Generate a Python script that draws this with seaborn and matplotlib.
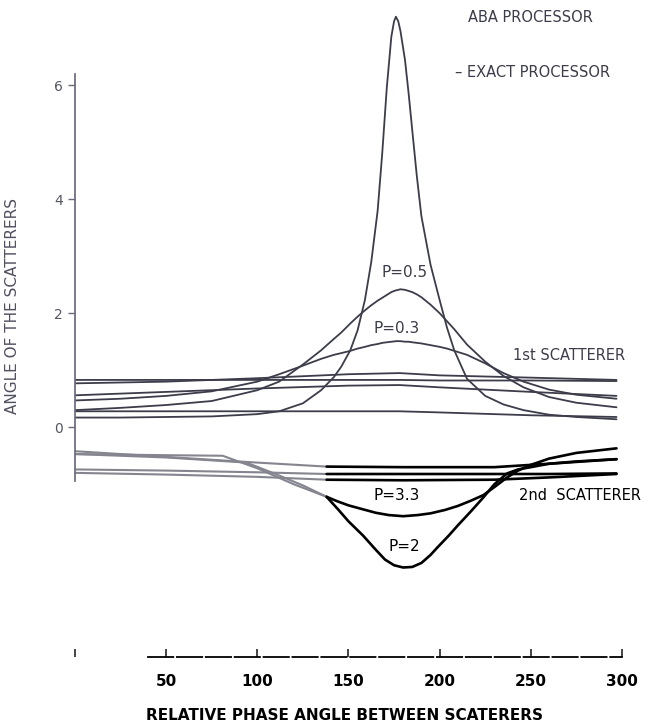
import matplotlib
matplotlib.use("Agg")
import matplotlib.pyplot as plt
import seaborn as sns
import pandas as pd

# relative phase grid used by the peaked curves (1st scatterer)
phase = [0, 25, 50, 75, 100, 112, 125, 135, 142, 146, 151, 155, 159, 162.5, 166, 168.5,
         171, 173.5, 175, 176, 177.3, 178.5, 181, 183, 185, 187.5, 190, 195, 200, 204,
         208, 215, 225, 235, 246, 260, 275, 297]
aba_peak = [0.17, 0.17, 0.18, 0.19, 0.23, 0.28, 0.42, 0.65, 0.88, 1.06, 1.35, 1.70, 2.23,
            2.90, 3.80, 4.80, 5.95, 6.85, 7.12, 7.20, 7.12, 6.95, 6.44, 5.85, 5.20, 4.40,
            3.70, 2.85, 2.23, 1.75, 1.35, 0.85, 0.55, 0.40, 0.30, 0.22, 0.18, 0.14]
p05 = [0.30, 0.34, 0.39, 0.46, 0.65, 0.80, 1.10, 1.35, 1.55, 1.66, 1.82, 1.94, 2.05, 2.14,
       2.22, 2.27, 2.32, 2.37, 2.39, 2.40, 2.41, 2.42, 2.41, 2.39, 2.37, 2.33, 2.28, 2.15,
       2.00, 1.86, 1.72, 1.45, 1.15, 0.90, 0.70, 0.53, 0.43, 0.35]
p03 = [0.47, 0.50, 0.55, 0.63, 0.80, 0.93, 1.08, 1.20, 1.27, 1.30, 1.34, 1.38, 1.41, 1.44,
       1.46, 1.48, 1.49, 1.50, 1.505, 1.51, 1.51, 1.51, 1.50, 1.50, 1.49, 1.48, 1.47, 1.44,
       1.41, 1.38, 1.34, 1.27, 1.12, 0.95, 0.80, 0.66, 0.57, 0.50]

# nearly flat lines of the 1st scatterer
flat_x = [0, 50, 100, 150, 178, 200, 250, 297]
line_a = [0.83, 0.83, 0.83, 0.83, 0.83, 0.82, 0.82, 0.81]
line_b = [0.77, 0.80, 0.86, 0.93, 0.95, 0.91, 0.87, 0.83]
line_c = [0.56, 0.62, 0.68, 0.73, 0.74, 0.70, 0.62, 0.55]
line_d = [0.28, 0.28, 0.28, 0.28, 0.28, 0.26, 0.21, 0.18]

# 2nd scatterer
p33_x = [0, 50, 94, 110, 125, 138, 144, 150, 158, 165, 172, 180, 188, 195, 203, 210, 217,
         224, 230, 237, 243, 250, 260, 275, 297]
p33 = [-0.47, -0.53, -0.62, -0.82, -1.02, -1.22, -1.30, -1.37, -1.44, -1.50, -1.54, -1.56,
       -1.54, -1.51, -1.45, -1.38, -1.29, -1.19, -1.05, -0.88, -0.76, -0.66, -0.55, -0.45,
       -0.37]
p2_x = [0, 50, 81, 100, 120, 138, 144, 150, 158, 165, 170, 175, 180, 185, 190, 195, 199,
        205, 210, 217, 224, 230, 237, 243, 250, 260, 275, 297]
p2 = [-0.47, -0.49, -0.50, -0.72, -1.00, -1.22, -1.43, -1.65, -1.90, -2.15, -2.32, -2.42,
      -2.46, -2.45, -2.38, -2.24, -2.10, -1.90, -1.72, -1.48, -1.23, -1.00, -0.81, -0.74,
      -0.70, -0.64, -0.60, -0.56]
low_x = [0, 50, 100, 138, 180, 230, 260, 297]
low_1 = [-0.42, -0.52, -0.62, -0.69, -0.70, -0.70, -0.64, -0.56]
low_2 = [-0.74, -0.76, -0.79, -0.82, -0.82, -0.82, -0.82, -0.81]
low_3 = [-0.80, -0.83, -0.87, -0.92, -0.93, -0.92, -0.88, -0.82]

xticks = [0, 50, 100, 150, 200, 250, 300]
xtick_labels = ["", "50", "100", "150", "200", "250", "300"]
yticks = [0, 2, 4, 6]

sns.set_theme(style="white")
plt.rcParams["font.family"] = ["DejaVu Sans"]

fig = plt.figure(figsize=(6.66, 7.26), dpi=100)
ax = fig.add_axes([0.1126, 0.095, 0.8213, 0.9016])

upper_col = "#3c3c4a"
for xs, ys in [(phase, aba_peak), (phase, p05), (phase, p03), (flat_x, line_a),
               (flat_x, line_b), (flat_x, line_c), (flat_x, line_d)]:
    sns.lineplot(x=xs, y=ys, ax=ax, color=upper_col, lw=1.3)

# lower curves: grey where the two processors agree, black afterwards
for xs, ys in [(p33_x, p33), (p2_x, p2), (low_x, low_1), (low_x, low_2), (low_x, low_3)]:
    df = pd.DataFrame({"x": xs, "y": ys})
    left = df[df.x <= 138]
    right = df[df.x >= 138]
    sns.lineplot(data=left, x="x", y="y", ax=ax, color="#85858f", lw=1.5)
    sns.lineplot(data=right, x="x", y="y", ax=ax, color="black", lw=1.9)

ax.set_xlim(0, 300)
ax.set_ylim(-4.03, 7.45)

ax.set_xticks(xticks)
ax.set_xticklabels(xtick_labels, fontsize=11, fontweight="bold", color="black")
ax.set_yticks(yticks)
ax.set_yticklabels([str(t) for t in yticks], fontsize=10, color="#555565")
ax.tick_params(axis="x", direction="in", length=6, width=1.2, pad=12, bottom=True)
ax.tick_params(axis="y", direction="out", length=5, width=1, color="#6a6a7a", left=True)

for s in ["top", "right"]:
    ax.spines[s].set_visible(False)
ax.spines["left"].set_bounds(-0.95, 6.2)
ax.spines["left"].set_color("#6a6a7a")
ax.spines["bottom"].set_bounds(40, 300)
ax.spines["bottom"].set_color("black")
ax.spines["bottom"].set_linewidth(1.3)
ax.spines["bottom"].set_linestyle((0, (14, 2)))

ax.set_ylabel("ANGLE OF THE SCATTERERS", fontsize=11, color="#505060")
ax.yaxis.set_label_coords(-0.1, 0.536)
ax.set_xlabel("RELATIVE PHASE ANGLE BETWEEN SCATERERS", fontsize=11, fontweight="bold",
              color="black")
ax.xaxis.set_label_coords(0.493, -0.078)

ax.text(215.5, 7.19, "ABA PROCESSOR", fontsize=10.5, color="#3c3c4a", va="center",
        clip_on=False)
ax.text(208.5, 6.23, "\u2013 EXACT PROCESSOR", fontsize=10.5, color="#3c3c4a", va="center",
        clip_on=False)
ax.text(180.5, 2.72, "P=0.5", fontsize=11, color="#3c3c4a", ha="center", va="center")
ax.text(176.6, 1.74, "P=0.3", fontsize=11, color="#3c3c4a", ha="center", va="center")
ax.text(240, 1.26, "1st SCATTERER", fontsize=10.5, color="#3c3c4a", va="center",
        clip_on=False)
ax.text(176.6, -1.19, "P=3.3", fontsize=11, color="black", ha="center", va="center")
ax.text(243.5, -1.19, "2nd  SCATTERER", fontsize=10.5, color="black", va="center",
        clip_on=False)
ax.text(180.5, -2.1, "P=2", fontsize=11, color="black", ha="center", va="center")

ax.grid(False)
fig.savefig("out.png", dpi=100)
